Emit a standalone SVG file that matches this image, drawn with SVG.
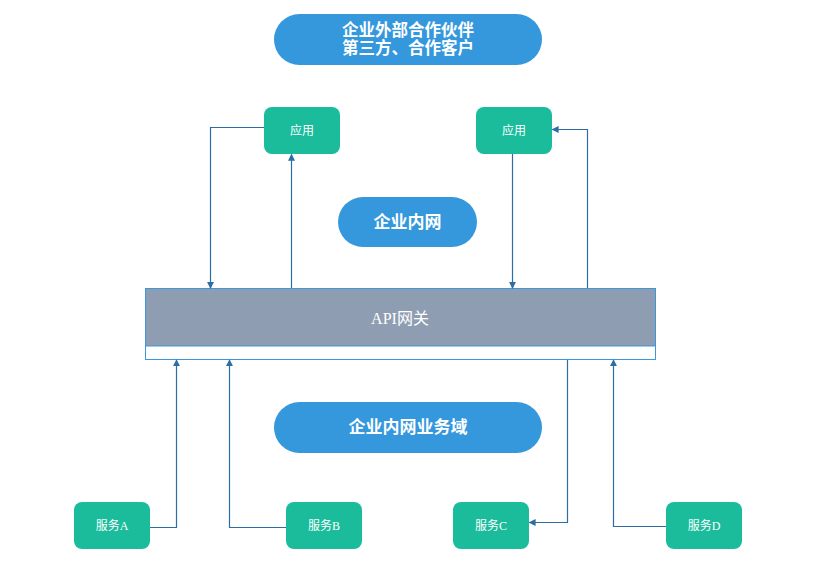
<svg xmlns="http://www.w3.org/2000/svg" width="828" height="566" viewBox="0 0 828 566">
<style>
.pill{fill:#3598dc}
.box{fill:#1abc9c}
.pt{fill:#fff;font-family:"Liberation Serif","Noto Sans CJK SC",serif;font-size:17px;font-weight:bold;text-anchor:middle;dominant-baseline:central}
.pt2{font-size:16.5px}
.bt{fill:#fff;font-family:"Liberation Serif","Noto Sans CJK SC",serif;font-size:12px;text-anchor:middle;dominant-baseline:central}
.gt{fill:#fff;font-family:"Liberation Serif","Noto Sans CJK SC",serif;font-size:16px;text-anchor:middle;dominant-baseline:central}
.c{fill:none;stroke:#2d6da3;stroke-width:1.2}
</style>
<defs>
<marker id="ah" viewBox="0 0 8 8" refX="7" refY="4" markerWidth="7" markerHeight="7" markerUnits="userSpaceOnUse" orient="auto">
<path d="M0,0 L8,4 L0,8 Z" fill="#2d6da3"/>
</marker>
</defs>
<rect width="828" height="566" fill="#fff"/>
<g id="partner">
<rect class="pill" x="274" y="14" width="268" height="51" rx="25.5"/>
<text class="pt pt2" x="408" y="30.5">企业外部合作伙伴</text>
<text class="pt pt2" x="408" y="48.5">第三方、合作客户</text>
</g>
<g id="app1">
<rect class="box" x="264" y="107" width="76" height="47" rx="8"/>
<text class="bt" x="302" y="130.5">应用</text>
</g>
<g id="app2">
<rect class="box" x="476" y="107" width="76" height="47" rx="8"/>
<text class="bt" x="514" y="130.5">应用</text>
</g>
<g id="intranet">
<rect class="pill" x="338" y="197" width="139" height="50" rx="25"/>
<text class="pt" x="407.5" y="222">企业内网</text>
</g>
<g id="gateway">
<rect x="145.5" y="288.5" width="510" height="71" fill="#fff" stroke="#3a98db" stroke-width="1"/>
<rect x="146" y="289" width="509" height="57" fill="#8e9db2"/>
<line x1="145.5" y1="346" x2="655.5" y2="346" stroke="#3a98db" stroke-width="1"/>
<text class="gt" x="400" y="318">API网关</text>
</g>
<g id="domain">
<rect class="pill" x="274" y="402" width="268" height="51" rx="25.5"/>
<text class="pt" x="408" y="427.5">企业内网业务域</text>
</g>
<g id="svcA">
<rect class="box" x="74" y="502" width="76" height="47" rx="8"/>
<text class="bt" x="112" y="525.5">服务A</text>
</g>
<g id="svcB">
<rect class="box" x="286" y="502" width="76" height="47" rx="8"/>
<text class="bt" x="324" y="525.5">服务B</text>
</g>
<g id="svcC">
<rect class="box" x="453" y="502" width="76" height="47" rx="8"/>
<text class="bt" x="491" y="525.5">服务C</text>
</g>
<g id="svcD">
<rect class="box" x="666" y="502" width="76" height="47" rx="8"/>
<text class="bt" x="704" y="525.5">服务D</text>
</g>
<g id="connectors">
<path class="c" d="M264,127.5 H210.5 V288" marker-end="url(#ah)"/>
<path class="c" d="M291.5,288 V154.5" marker-end="url(#ah)"/>
<path class="c" d="M512.5,154 V288" marker-end="url(#ah)"/>
<path class="c" d="M587.5,288 V129.5 H552.5" marker-end="url(#ah)"/>
<path class="c" d="M150,527.5 H176.5 V360" marker-end="url(#ah)"/>
<path class="c" d="M286,527.5 H229.5 V360" marker-end="url(#ah)"/>
<path class="c" d="M567.5,360 V522.5 H529.5" marker-end="url(#ah)"/>
<path class="c" d="M666,526.5 H613.5 V360" marker-end="url(#ah)"/>
</g>
</svg>
